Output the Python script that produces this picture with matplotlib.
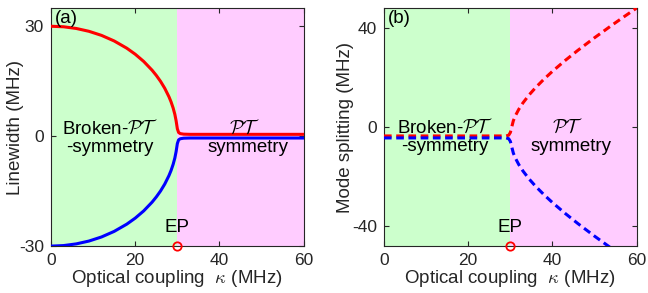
import matplotlib
matplotlib.use("Agg")
import matplotlib.pyplot as plt

plt.rcParams['font.family'] = ['Liberation Sans', 'DejaVu Sans']
plt.rcParams['mathtext.fontset'] = 'cm'
plt.rcParams['axes.unicode_minus'] = False

# ---- data ----
kappa_a = [0, 3, 6, 9, 12, 15, 18, 20, 22, 24, 25, 26, 27, 28, 28.5, 29, 29.4,
           29.7, 30.0, 30.3, 30.7, 31.5, 33, 40, 50, 60]
linewidth_red = [30.0, 29.85, 29.39, 28.62, 27.5, 25.98, 24.0, 22.36, 20.4, 18.0,
                 16.58, 14.97, 13.08, 10.77, 9.37, 7.68, 5.97, 4.23, 2.0, 1.0,
                 0.7, 0.55, 0.5, 0.5, 0.5, 0.5]
linewidth_blue = [-30.0, -29.85, -29.39, -28.62, -27.5, -25.98, -24.0, -22.36, -20.4,
                  -18.0, -16.58, -14.97, -13.08, -10.77, -9.37, -7.68, -5.97, -4.23,
                  -2.0, -1.0, -0.7, -0.55, -0.5, -0.5, -0.5, -0.5]

kappa_b = [0, 10, 20, 29, 29.6, 30, 30.3, 30.7, 31.2, 32, 33, 34.5, 36, 38, 40,
           43, 46, 50, 54, 57, 60]
split_red = [-3.6, -3.6, -3.6, -3.6, -3.3, -2.2, -0.2, 2.5, 4.57, 7.14, 9.75, 13.04,
             15.9, 19.32, 22.46, 26.8, 30.87, 36.0, 40.9, 44.47, 47.96]
split_blue = [-4.4, -4.4, -4.4, -4.4, -4.7, -5.8, -7.8, -10.5, -12.57, -15.14, -17.75,
              -21.04, -23.9, -27.32, -30.46, -34.8, -38.87, -44.0, -48.9, -52.5, -56.0]

ep_kappa = 30
xticks = [0, 20, 40, 60]
yticks_a = [-30, 0, 30]
yticks_b = [-40, 0, 40]

green = '#ccffcc'
pink = '#ffccff'
dark = '#262626'

fig = plt.figure(figsize=(6.48, 2.93), dpi=100)
ax1 = fig.add_axes([0.0787, 0.160, 0.390, 0.813])
ax2 = fig.add_axes([0.5926, 0.160, 0.390, 0.813])

def style(ax):
    ax.set_xlim(0, 60)
    ax.set_xticks(xticks)
    ax.tick_params(direction='in', top=True, right=True, length=3.5, width=0.8,
                   labelsize=12.5, colors=dark, pad=5)
    for s in ax.spines.values():
        s.set_color(dark)
        s.set_linewidth(0.8)
    ax.axvspan(0, ep_kappa, color=green, lw=0, zorder=0)
    ax.axvspan(ep_kappa, 60, color=pink, lw=0, zorder=0)
    ax.set_xlabel(r'Optical coupling  $\kappa$ (MHz)', fontsize=13.5, color=dark, labelpad=0)

# panel a
style(ax1)
ax1.set_ylim(-30, 35)
ax1.set_yticks(yticks_a)
ax1.plot(kappa_a, linewidth_red, color='#ff0000', lw=2.2, zorder=3)
ax1.plot(kappa_a, linewidth_blue, color='#0000ff', lw=2.2, zorder=3)
ax1.plot([ep_kappa], [-30], 'o', mfc='none', mec='#ff0000', ms=6, mew=1.3,
         clip_on=False, zorder=5)
ax1.set_ylabel('Linewidth (MHz)', fontsize=13.5, color=dark)
ax1.yaxis.set_label_coords(-0.105, 0.5)
ax1.text(14, 2.2, r'Broken-$\mathcal{PT}$', ha='center', va='center', fontsize=13.5, color='black')
ax1.text(14, -3.2, '-symmetry', ha='center', va='center', fontsize=13.5, color='black')
ax1.text(46, 2.2, r'$\mathcal{PT}$', ha='center', va='center', fontsize=13.5, color='black')
ax1.text(46.7, -3.2, 'symmetry', ha='center', va='center', fontsize=13.5, color='black')
ax1.text(30, -25, 'EP', ha='center', va='center', fontsize=13.5, color='black')
ax1.text(0.015, 0.99, '(a)', transform=ax1.transAxes, ha='left', va='top', fontsize=13.5, color='black')

# panel b
style(ax2)
ax2.set_ylim(-48, 48)
ax2.set_yticks(yticks_b)
ax2.plot(kappa_b, split_red, color='#ff0000', lw=2.2, ls=(0, (2.5, 1.5)), zorder=3)
ax2.plot(kappa_b, split_blue, color='#0000ff', lw=2.2, ls=(0, (2.5, 1.5)), zorder=3)
ax2.plot([ep_kappa], [-48], 'o', mfc='none', mec='#ff0000', ms=6, mew=1.3,
         clip_on=False, zorder=5)
ax2.set_ylabel('Mode splitting (MHz)', fontsize=13.5, color=dark)
ax2.yaxis.set_label_coords(-0.119, 0.5)
ax2.text(14.5, 0, r'Broken-$\mathcal{PT}$', ha='center', va='center', fontsize=13.5, color='black')
ax2.text(14.5, -8, '-symmetry', ha='center', va='center', fontsize=13.5, color='black')
ax2.text(43.5, 0, r'$\mathcal{PT}$', ha='center', va='center', fontsize=13.5, color='black')
ax2.text(44.4, -8, 'symmetry', ha='center', va='center', fontsize=13.5, color='black')
ax2.text(30, -40.5, 'EP', ha='center', va='center', fontsize=13.5, color='black')
ax2.text(0.015, 0.99, '(b)', transform=ax2.transAxes, ha='left', va='top', fontsize=13.5, color='black')

fig.savefig('out.png', dpi=100)
